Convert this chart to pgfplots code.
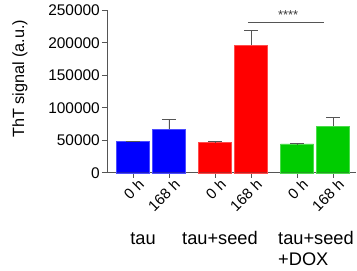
\documentclass[border=0pt]{standalone}
\usepackage{fontspec}
\setmainfont{Liberation Sans}
\usepackage{pgfplots}
\pgfplotsset{compat=1.18}
\definecolor{bblue}{RGB}{0,0,255}
\definecolor{bred}{RGB}{255,0,0}
\definecolor{bgreen}{RGB}{0,204,0}
\definecolor{axgray}{RGB}{85,85,85}
\begin{document}
\begin{tikzpicture}
\useasboundingbox (-107bp,-98.3bp) rectangle (250bp,172.7bp);
\begin{axis}[
  at={(0,0)}, anchor=south west,
  scale only axis,
  width=249bp, height=162.5bp,
  xmin=-0.722, xmax=6.194,
  ymin=0, ymax=250000,
  axis x line=bottom, axis y line=left,
  axis line style={-, axgray, line width=0.9pt},
  tick style={axgray, line width=0.9pt},
  tick align=outside,
  major tick length=5bp,
  xtick={0,1,2.278,3.278,4.556,5.556},
  xticklabels={0 h,168 h,0 h,168 h,0 h,168 h},
  x tick label style={rotate=45, anchor=north east, font=\fontsize{15}{17}\selectfont, inner sep=1pt, xshift=4bp, yshift=-2bp},
  ytick={0,50000,100000,150000,200000,250000},
  yticklabels={0,50000,100000,150000,200000,250000},
  scaled y ticks=false,
  y tick label style={font=\fontsize{15.5}{17}\selectfont, inner sep=2pt},
  ybar, bar shift=0pt, bar width=33bp,
  clip=false,
  error bars/y dir=plus, error bars/y explicit,
  error bars/error bar style={axgray, line width=0.8pt},
  error bars/error mark options={rotate=90, mark size=7bp, axgray, line width=0.8pt},
]
\addplot[fill=bblue, draw=bblue!70!white] coordinates {(0,47700) +- (0,600) (1,66800) +- (0,15800)};
\addplot[fill=bred, draw=bred!70!white] coordinates {(2.278,47200) +- (0,600) (3.278,196000) +- (0,23000)};
\addplot[fill=bgreen, draw=bgreen!70!white] coordinates {(4.556,44200) +- (0,600) (5.556,71800) +- (0,13400)};
\draw[axgray, line width=0.8pt] (axis cs:3.19,231400) -- (axis cs:5.31,231400);
\node[font=\fontsize{13}{14}\selectfont, text=axgray!70!black] at (axis cs:4.31,243000) {****};
\end{axis}
\node[rotate=90, font=\fontsize{16.3}{18}\selectfont] at (-87bp,94bp) {ThT signal (a.u.)};
\node[font=\fontsize{18.3}{20}\selectfont, anchor=base] at (36bp,-72bp) {tau};
\node[font=\fontsize{18.3}{20}\selectfont, anchor=base] at (113bp,-72bp) {tau+seed};
\node[font=\fontsize{18.3}{20}\selectfont, anchor=base west, inner sep=0pt] at (171bp,-72bp) {tau+seed};
\node[font=\fontsize{18.3}{20}\selectfont, anchor=base west, inner sep=0pt] at (171bp,-93bp) {+DOX};
\end{tikzpicture}
\end{document}
